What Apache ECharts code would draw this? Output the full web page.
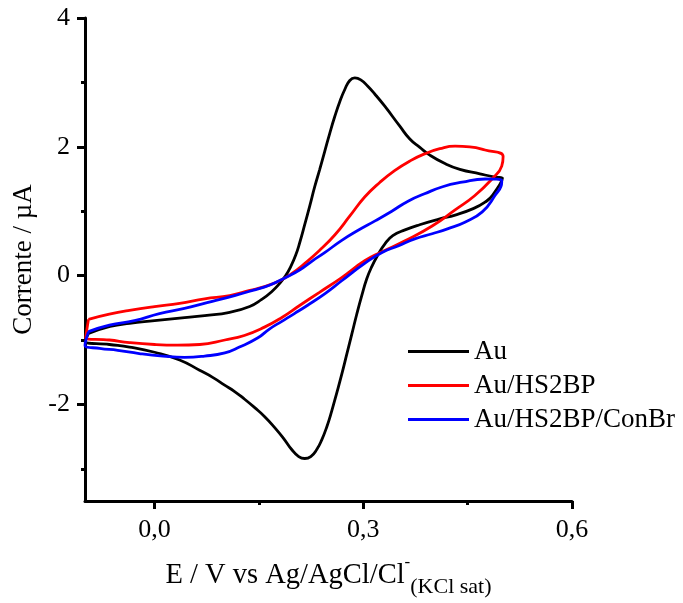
<!DOCTYPE html>
<html>
<head>
<meta charset="utf-8">
<script src="https://cdn.jsdelivr.net/npm/echarts@6/dist/echarts.min.js"></script>
<style>
  html, body { margin: 0; padding: 0; background: #ffffff; }
  #chart { width: 683px; height: 603px; }
</style>
</head>
<body>
<div id="chart"></div>
<script>
// Cyclic voltammograms: potential (V) and current (µA), each loop closed at the start point.
const seriesNames = ['Au', 'Au/HS2BP', 'Au/HS2BP/ConBr'];

// Au
const auE = [
  -0.095, -0.064, -0.036, 0, 0.036, 0.072, 0.108, 0.1367, 0.1540, 0.1683, 0.1799, 0.1885,
  0.1957, 0.2029, 0.2086, 0.2158, 0.2230, 0.2302, 0.2374, 0.2446, 0.2518, 0.2590, 0.2662, 0.2734,
  0.2806, 0.2878, 0.2964, 0.3065, 0.3165, 0.3309, 0.3525, 0.3669, 0.3813, 0.3957, 0.4173, 0.4388,
  0.4676, 0.489, 0.500,
  0.486, 0.475, 0.458, 0.432, 0.410, 0.381, 0.360, 0.3424, 0.3309, 0.3209, 0.3122, 0.3050,
  0.2978, 0.2906, 0.2835, 0.2763, 0.2691, 0.2619, 0.2547, 0.2475, 0.2403, 0.2331, 0.2245, 0.2158,
  0.2072, 0.1971, 0.1856, 0.1727, 0.1583, 0.1439, 0.1295, 0.1151, 0.1007, 0.0835, 0.0647, 0.0360,
  0, -0.036, -0.065, -0.100, -0.095
];
const auI = [
  -0.90, -0.79, -0.74, -0.70, -0.66, -0.62, -0.57, -0.48, -0.37, -0.25, -0.12, 0.00,
  0.14, 0.32, 0.51, 0.79, 1.08, 1.38, 1.65, 1.93, 2.21, 2.47, 2.70, 2.89,
  3.03, 3.07, 3.04, 2.94, 2.82, 2.63, 2.32, 2.12, 1.99, 1.87, 1.74, 1.65,
  1.58, 1.53, 1.51,
  1.25, 1.14, 1.04, 0.94, 0.88, 0.79, 0.71, 0.62, 0.49, 0.32, 0.14, -0.05,
  -0.31, -0.60, -0.91, -1.22, -1.53, -1.82, -2.10, -2.35, -2.55, -2.70, -2.81, -2.84,
  -2.81, -2.70, -2.53, -2.36, -2.19, -2.05, -1.92, -1.80, -1.70, -1.58, -1.47, -1.31,
  -1.19, -1.11, -1.07, -1.02, -0.90
];

// Au/HS2BP
const hsE = [
  -0.095, -0.065, -0.036, 0, 0.036, 0.072, 0.108, 0.137, 0.158, 0.180, 0.197, 0.216,
  0.237, 0.259, 0.281, 0.302, 0.324, 0.345, 0.367, 0.388, 0.410, 0.432, 0.453, 0.475,
  0.501,
  0.499, 0.485, 0.460, 0.432, 0.399, 0.360, 0.327, 0.302, 0.269, 0.237, 0.209, 0.183,
  0.158, 0.129, 0.101, 0.065, 0.033, 0, -0.036, -0.065, -0.099, -0.095
];
const hsI = [
  -0.68, -0.60, -0.54, -0.48, -0.43, -0.36, -0.31, -0.23, -0.17, -0.08, 0.03, 0.19,
  0.39, 0.63, 0.93, 1.22, 1.45, 1.63, 1.78, 1.89, 1.97, 2.01, 2.00, 1.95,
  1.85,
  1.70, 1.50, 1.24, 1.02, 0.77, 0.54, 0.37, 0.23, -0.03, -0.26, -0.46, -0.65,
  -0.80, -0.93, -1.00, -1.07, -1.08, -1.07, -1.04, -1.00, -0.97, -0.68
];

// Au/HS2BP/ConBr
const cbE = [
  -0.095, -0.065, -0.029, 0.007, 0.043, 0.083, 0.115, 0.141, 0.165, 0.190, 0.209, 0.227,
  0.245, 0.268, 0.292, 0.317, 0.341, 0.365, 0.388, 0.414, 0.442, 0.475, 0.499,
  0.499, 0.489, 0.471, 0.446, 0.422, 0.399, 0.374, 0.350, 0.327, 0.302, 0.269, 0.245,
  0.220, 0.201, 0.183, 0.165, 0.148, 0.122, 0.101, 0.072, 0.043, 0.012, -0.022, -0.053,
  -0.079, -0.100, -0.095
];
const cbI = [
  -0.87, -0.77, -0.70, -0.59, -0.51, -0.40, -0.31, -0.23, -0.15, -0.02, 0.09, 0.23,
  0.36, 0.54, 0.70, 0.85, 1.00, 1.16, 1.27, 1.38, 1.45, 1.50, 1.48,
  1.45, 1.24, 0.99, 0.83, 0.73, 0.65, 0.57, 0.46, 0.36, 0.19, -0.08, -0.28,
  -0.46, -0.59, -0.71, -0.83, -0.97, -1.11, -1.20, -1.25, -1.27, -1.25, -1.21, -1.16,
  -1.13, -1.08, -0.87
];

// Axis ticks
const xMajorTicks = [0, 0.3, 0.6];
const xMinorTicks = [0.15, 0.45];
const yMajorTicks = [-2, 0, 2, 4];
const yMinorTicks = [-3, -1, 1, 3];

const colors = ['#000000', '#ff0000', '#0000ff'];
const FONT = '"Liberation Serif", "Times New Roman", serif';

const pairs = (xs, ys) => xs.map((x, i) => [x, ys[i]]);
const curves = [pairs(auE, auI), pairs(hsE, hsI), pairs(cbE, cbI)];

const xRange = { min: -0.1, max: 0.6 };
const yRange = { min: -3.5, max: 4 };
const tickStyle = { color: '#000', width: 3 };

const chart = echarts.init(document.getElementById('chart'), null, { renderer: 'canvas' });
chart.setOption({
  animation: false,
  backgroundColor: '#ffffff',
  grid: { left: 85, top: 18, width: 487, height: 485.5, containLabel: false },
  legend: {
    orient: 'vertical',
    left: 408,
    top: 338,
    padding: 0,
    itemWidth: 61,
    itemHeight: 3,
    itemGap: 7,
    icon: 'rect',
    data: seriesNames,
    textStyle: { fontFamily: FONT, fontSize: 27, color: '#000' }
  },
  xAxis: [
    {
      type: 'value', position: 'bottom', ...xRange,
      axisLine: { show: true, onZero: false, lineStyle: { color: '#000', width: 3 } },
      splitLine: { show: false },
      axisTick: { show: true, customValues: xMajorTicks, length: 8, lineStyle: tickStyle },
      axisLabel: {
        customValues: xMajorTicks, margin: 16,
        fontFamily: FONT, fontSize: 26, color: '#000',
        formatter: v => v.toFixed(1).replace('.', ',')
      },
      name: '{m|E / V vs Ag/AgCl/Cl}{sup|-}{sub|(KCl sat)}',
      nameLocation: 'middle',
      nameGap: 53,
      nameTextStyle: {
        fontFamily: FONT, color: '#000',
        rich: {
          m: { fontFamily: FONT, fontSize: 28.5, color: '#000', lineHeight: 44, verticalAlign: 'middle' },
          sup: { fontFamily: FONT, fontSize: 17, color: '#000', lineHeight: 32, verticalAlign: 'top' },
          sub: { fontFamily: FONT, fontSize: 22, color: '#000', lineHeight: 14, verticalAlign: 'bottom' }
        }
      }
    },
    {
      type: 'value', position: 'bottom', ...xRange,
      axisLine: { show: false, onZero: false },
      splitLine: { show: false },
      axisTick: { show: true, customValues: xMinorTicks, length: 4, lineStyle: tickStyle },
      axisLabel: { show: false }
    }
  ],
  yAxis: [
    {
      type: 'value', position: 'left', ...yRange,
      axisLine: { show: true, onZero: false, lineStyle: { color: '#000', width: 3 } },
      splitLine: { show: false },
      axisTick: { show: true, customValues: yMajorTicks, length: 8, lineStyle: tickStyle },
      axisLabel: {
        customValues: yMajorTicks, margin: 15,
        fontFamily: FONT, fontSize: 26, color: '#000'
      },
      name: 'Corrente / µA',
      nameLocation: 'middle',
      nameGap: 44,
      nameTextStyle: { fontFamily: FONT, fontSize: 27, color: '#000' }
    },
    {
      type: 'value', position: 'left', ...yRange,
      axisLine: { show: false, onZero: false },
      splitLine: { show: false },
      axisTick: { show: true, customValues: yMinorTicks, length: 4, lineStyle: tickStyle },
      axisLabel: { show: false }
    }
  ],
  series: curves.map((data, i) => ({
    name: seriesNames[i],
    type: 'line',
    xAxisIndex: 0,
    yAxisIndex: 0,
    data,
    color: colors[i],
    showSymbol: false,
    symbol: 'none',
    smooth: 0.5,
    lineStyle: { color: colors[i], width: 2.8 },
    z: 2 + i
  }))
});
</script>
</body>
</html>
